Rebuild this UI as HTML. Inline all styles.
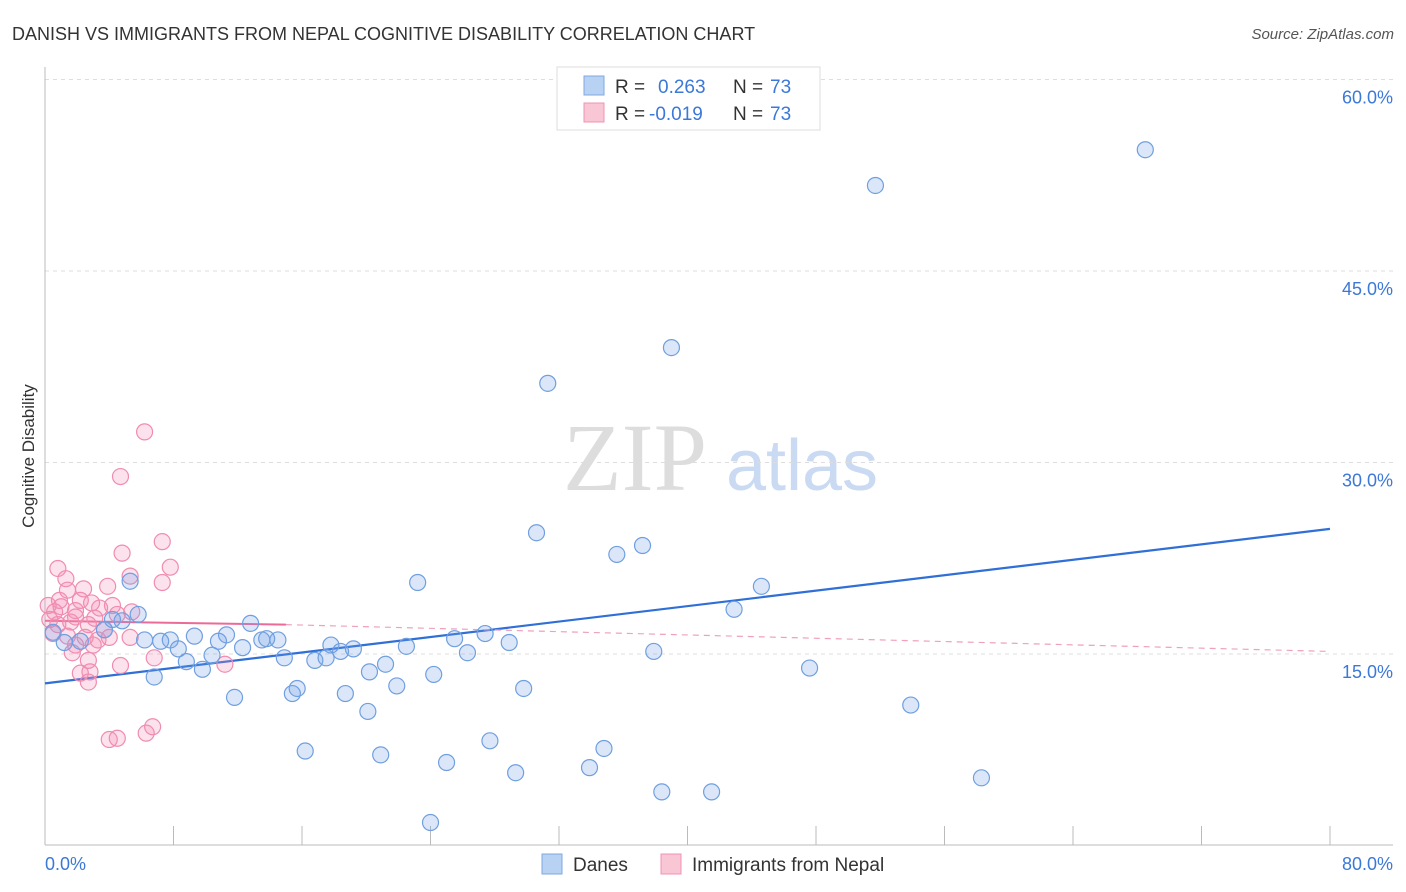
<!DOCTYPE html>
<html><head><meta charset="utf-8"><style>
body{margin:0;background:#fff;font-family:"Liberation Sans",sans-serif;}
svg{display:block}
</style></head><body>
<svg id="chart" width="1406" height="892" xmlns="http://www.w3.org/2000/svg">
<text x="12" y="40" font-size="18" fill="#333">DANISH VS IMMIGRANTS FROM NEPAL COGNITIVE DISABILITY CORRELATION CHART</text>
<text x="1394" y="39" font-size="15" fill="#555" text-anchor="end" font-style="italic">Source: ZipAtlas.com</text>
<text transform="translate(34,456) rotate(-90)" font-size="17" fill="#333" text-anchor="middle">Cognitive Disability</text>
<g>
<text x="635" y="490" font-size="96" font-family="Liberation Serif,serif" fill="#ddd" text-anchor="middle">ZIP</text>
<text x="802" y="490" font-size="72" fill="#c9daf2" text-anchor="middle">atlas</text>
</g>
<g id="grid"></g><g id="axes"></g><g id="lines"></g><g id="points"></g>
<g>
<rect x="557" y="67" width="263" height="63" fill="#fff" stroke="#ddd"/>
<rect x="584" y="76" width="20" height="19" fill="#b8d2f3" stroke="#7fa8e0"/>
<text x="615" y="93" font-size="19" fill="#333">R = </text><text x="658" y="93" font-size="19" fill="#3b78d8">0.263</text>
<text x="733" y="93" font-size="19" fill="#333">N = </text><text x="770" y="93" font-size="19" fill="#3b78d8">73</text>
<rect x="584" y="103" width="20" height="19" fill="#f9c6d6" stroke="#f093b3"/>
<text x="615" y="120" font-size="19" fill="#333">R = </text><text x="649" y="120" font-size="19" fill="#3b78d8">-0.019</text>
<text x="733" y="120" font-size="19" fill="#333">N = </text><text x="770" y="120" font-size="19" fill="#3b78d8">73</text>
</g>
<g>
<rect x="542" y="854" width="20" height="20" fill="#b8d2f3" stroke="#7fa8e0"/>
<text x="573" y="871" font-size="19" fill="#333">Danes</text>
<rect x="661" y="854" width="20" height="20" fill="#f9c6d6" stroke="#f093b3"/>
<text x="692" y="871" font-size="19" fill="#333">Immigrants from Nepal</text>
</g>
</svg>
<script>
const yTicks=[15,30,45,60];
const yTickLabels=["15.0%","30.0%","45.0%","60.0%"];
const xTicks=[0,8,16,24,32,40,48,56,64,72,80];
const xEndLabels=["0.0%","80.0%"];
const danesX=[68.5,51.7,39.0,31.3,30.6,37.2,35.6,44.6,23.2,5.3,42.9,5.8,4.8,12.8,4.2,0.5,1.2,2.2,3.7,6.2,7.2,7.8,8.3,9.3,8.8,9.8,10.4,10.8,11.3,12.3,13.5,13.8,14.5,14.9,11.8,15.4,15.7,16.8,17.5,17.8,18.4,19.2,18.7,20.1,20.2,21.2,21.9,22.5,24.2,25.5,26.3,27.4,28.9,29.8,37.9,47.6,53.9,16.2,20.9,25.0,27.7,29.3,33.9,34.8,38.4,41.5,58.3,24.0,6.8];
const danesY=[54.5,51.7,39.0,36.2,24.5,23.5,22.8,20.3,20.6,20.7,18.5,18.1,17.6,17.4,17.7,16.7,15.9,16.0,16.9,16.1,16.0,16.1,15.4,16.4,14.4,13.8,14.9,16.0,16.5,15.5,16.1,16.2,16.1,14.7,11.6,11.9,12.3,14.5,14.7,15.7,15.2,15.4,11.9,10.5,13.6,14.2,12.5,15.6,13.4,16.2,15.1,16.6,15.9,12.3,15.2,13.9,11.0,7.4,7.1,6.5,8.2,5.7,6.1,7.6,4.2,4.2,5.3,1.8,13.2];
const nepalX=[6.2,4.7,7.3,4.8,0.8,7.8,1.3,5.3,7.3,3.9,1.4,2.4,0.2,0.6,1.0,1.9,2.2,2.9,3.4,4.2,4.5,5.4,0.3,0.8,1.6,2.7,3.1,0.5,1.4,2.5,3.3,4.0,5.3,1.9,3.0,1.7,2.7,6.8,4.7,11.2,2.2,2.8,2.7,6.7,6.3,4.0,4.5,0.9,1.9,3.7];
const nepalY=[32.4,28.9,23.8,22.9,21.7,21.8,20.9,21.1,20.6,20.3,20.0,20.1,18.8,18.3,18.7,18.4,19.2,19.0,18.6,18.8,18.1,18.3,17.7,17.3,17.5,17.3,17.8,16.6,16.4,16.3,16.1,16.3,16.3,15.7,15.7,15.1,14.5,14.7,14.1,14.2,13.5,13.6,12.8,9.3,8.8,8.3,8.4,19.2,17.9,16.9];
const danesTrend=[[0,12.7],[80,24.8]];
const nepalTrendSolid=[[0,17.6],[15,17.3]];
const nepalTrendDashed=[[15,17.3],[80,15.2]];

const X=v=>45+v/80*1285;
const Y=v=>845.5-v/15*191.5;
const NS="http://www.w3.org/2000/svg";
function mk(parent,tag,attrs){const e=document.createElementNS(NS,tag);for(const k in attrs)e.setAttribute(k,attrs[k]);document.getElementById(parent).appendChild(e);return e;}
yTicks.forEach((t,i)=>{
 const g=mk('grid','line',{x1:45,x2:1393,y1:Y(t),y2:Y(t),stroke:'#ddd','stroke-dasharray':'4,4'});
 
 
 const l=mk('grid','text',{x:1393,y:Y(t)+24,'font-size':18,fill:'#3b78d8','text-anchor':'end'});
 l.textContent=yTickLabels[i];
 
 
});
const ya=mk('axes','line',{x1:45,x2:45,y1:67,y2:845,stroke:'#bbb'});


const xa=mk('axes','line',{x1:45,x2:1393,y1:845,y2:845,stroke:'#bbb'});


xTicks.forEach(t=>{
 const tk=mk('axes','line',{x1:X(t),x2:X(t),y1:826,y2:845,stroke:'#bbb'});
 
 
});
const xl0=mk('axes','text',{x:45,y:870,'font-size':18,fill:'#3b78d8'});xl0.textContent=xEndLabels[0];


const xl1=mk('axes','text',{x:1393,y:870,'font-size':18,fill:'#3b78d8','text-anchor':'end'});xl1.textContent=xEndLabels[1];


nepalX.forEach((v,i)=>{
 const c=mk('points','circle',{cx:X(v),cy:Y(nepalY[i]),r:8,fill:'rgba(243,140,178,0.25)',stroke:'#f08cb0','stroke-width':1.2});
 
 
});
danesX.forEach((v,i)=>{
 const c=mk('points','circle',{cx:X(v),cy:Y(danesY[i]),r:8,fill:'rgba(110,160,230,0.25)',stroke:'#6f9fe0','stroke-width':1.2});
 
 
});
const bl=mk('lines','line',{x1:X(danesTrend[0][0]),y1:Y(danesTrend[0][1]),x2:X(danesTrend[1][0]),y2:Y(danesTrend[1][1]),stroke:'#2f6fd6','stroke-width':2.2});


const pl=mk('lines','line',{x1:X(nepalTrendSolid[0][0]),y1:Y(nepalTrendSolid[0][1]),x2:X(nepalTrendSolid[1][0]),y2:Y(nepalTrendSolid[1][1]),stroke:'#ec6a97','stroke-width':2});


const pd=mk('lines','line',{x1:X(nepalTrendDashed[0][0]),y1:Y(nepalTrendDashed[0][1]),x2:X(nepalTrendDashed[1][0]),y2:Y(nepalTrendDashed[1][1]),stroke:'#f0a0bc','stroke-width':1.2,'stroke-dasharray':'6,5'});


</script>
</body></html>
